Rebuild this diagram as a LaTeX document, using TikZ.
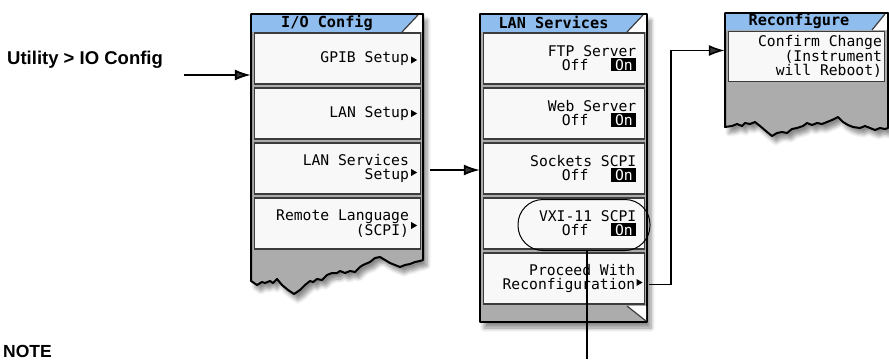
\documentclass[tikz,border=0pt]{standalone}
\usepackage{fontspec}
\usepackage{tikz}
\usetikzlibrary{positioning}
\usetikzlibrary{arrows.meta, shadows.blur}

\newfontfamily\keyfont{DejaVu Sans Mono}
\newfontfamily\labelfont{Liberation Sans}
\definecolor{titleblue}{RGB}{143,189,238}
\definecolor{keywhite}{RGB}{248,248,248}
\definecolor{torngray}{RGB}{172,172,172}
\definecolor{keyedge}{RGB}{60,60,60}
\newcommand{\onbox}{{\setlength{\fboxsep}{1.2pt}\colorbox{black}{\textcolor{white}{\,On\,}}}}
\newcommand{\offon}{Off\hspace{23pt}\onbox}

\begin{document}
\begin{tikzpicture}[x=1pt, y=-1pt,
    softkey/.style={draw=keyedge, line width=1.3pt, fill=keywhite, inner sep=0pt, minimum height=51pt},
    keytext/.style={font=\keyfont\fontsize{14.7}{13.5}\selectfont, align=right, inner sep=0pt, anchor=east},
    menutitle/.style={font=\keyfont\bfseries\fontsize{15.2}{14}\selectfont, inner sep=0pt, anchor=base},
    panel/.style={fill=torngray, draw=black, line width=2pt, line join=round,
        blur shadow={shadow xshift=4pt, shadow yshift=-6pt, shadow blur steps=6, shadow blur radius=4pt, shadow opacity=45}},
    flow/.style={line width=1.8pt, -{Latex[length=16pt, width=11pt]}},
    heading/.style={font=\labelfont\bfseries\fontsize{18.5}{20}\selectfont, inner sep=0pt, anchor=base west}]
\useasboundingbox (0,0) rectangle (889,359);

\fill[panel] (251,14) -- (423,14) -- (423,260) -- (420,261) -- (415,262) -- (410,264) -- (405,265)
    -- (400,267) -- (395,265) -- (390,263) -- (385,260) -- (380,257) -- (375,258) -- (370,262)
    -- (363,265) -- (360,267) -- (355,272) -- (350,271) -- (345,273) -- (340,271) -- (337,273)
    -- (332,273) -- (327,275) -- (322,280) -- (317,279) -- (313,282) -- (310,281) -- (305,285)
    -- (300,290) -- (294,294) -- (288,290) -- (282,285) -- (277,279) -- (273,283) -- (270,281)
    -- (265,283) -- (262,282) -- (257,285) -- (251,281) -- cycle;
\fill[white] (252,15) rectangle (422,32);
\fill[titleblue] (252,15) -- (418,15) -- (402,32) -- (252,32) -- cycle;
\draw[keyedge, line width=1.2pt] (418,15) -- (402,32);
\node[menutitle] (iotitle) at (327,27.5) {I/O Config};

\node[softkey, minimum width=166pt] (gpib) at (337.5,58.5) {};
\node[softkey, minimum width=166pt, below=2.7pt of gpib] (lanset) {};
\node[softkey, minimum width=166pt, below=2.7pt of lanset] (lansvc) {};
\node[softkey, minimum width=166pt, below=2.7pt of lansvc] (remote) {};
\node[keytext] (gpibtext) at ([xshift=-12pt]gpib.east) {GPIB Setup};
\node[keytext] (lansettext) at ([xshift=-12pt]lanset.east) {LAN Setup};
\node[keytext] (lansvctext) at ([xshift=-12pt]lansvc.east) {LAN Services\\Setup};
\node[keytext] (remotetext) at ([xshift=-12pt]remote.east) {Remote Language\\(SCPI)};

\fill[panel] (480,14) -- (647,14) -- (647,322) -- (480,322) -- cycle;
\fill[white] (481,15) rectangle (646,32);
\fill[titleblue] (481,15) -- (643,15) -- (627,32) -- (481,32) -- cycle;
\draw[keyedge, line width=1.2pt] (643,15) -- (627,32);
\node[menutitle] (lantitle) at (553.5,28) {LAN Services};

\node[softkey, minimum width=161pt] (ftp) at (564,58.5) {};
\node[softkey, minimum width=161pt, below=2.7pt of ftp] (web) {};
\node[softkey, minimum width=161pt, below=2.7pt of web] (sockets) {};
\node[softkey, minimum width=161pt, below=2.7pt of sockets] (vxi) {};
\node[softkey, minimum width=161pt, below=2.7pt of vxi] (proceed) {};
\fill[white] (627,306) -- (646,306) -- (646,321) -- cycle;
\draw[keyedge, line width=1.2pt] (627,306) -- (646,321);
\node[keytext] (ftptext) at ([xshift=-8.6pt]ftp.east) {FTP Server\\\offon};
\node[keytext] (webtext) at ([xshift=-8.6pt]web.east) {Web Server\\\offon};
\node[keytext] (socketstext) at ([xshift=-8.6pt]sockets.east) {Sockets SCPI\\\offon};
\node[keytext] (vxitext) at ([xshift=-8.6pt]vxi.east) {VXI-11 SCPI\\\offon};
\node[keytext] (proceedtext) at ([xshift=-9.6pt]proceed.east) {Proceed With\\Reconfiguration};

\fill[panel] (725,13) -- (888,13) -- (888,128) -- (885,129) -- (880,128) -- (875,130) -- (870,128)
    -- (865,126) -- (860,128) -- (853,127) -- (848,125) -- (843,122) -- (838,117) -- (832,120)
    -- (827,122) -- (822,124) -- (817,123) -- (812,125) -- (807,123) -- (803,126) -- (797,128)
    -- (792,129) -- (787,133) -- (782,132) -- (777,133) -- (772,136) -- (767,132) -- (760,126)
    -- (755,122) -- (750,124) -- (745,123) -- (742,126) -- (737,124) -- (732,126) -- (725,127) -- cycle;
\fill[white] (726,14) rectangle (887,30);
\fill[titleblue] (726,14) -- (885,14) -- (872,30) -- (726,30) -- cycle;
\draw[keyedge, line width=1.2pt] (885,14) -- (872,30);
\node[menutitle] (recontitle) at (799,25.5) {Reconfigure};
\node[softkey, minimum width=156pt, minimum height=50pt] (confirm) at (806.5,56.5) {};
\node[keytext, font=\keyfont\fontsize{14.7}{14.5}\selectfont] (confirmtext) at ([xshift=-3pt]confirm.east)
    {Confirm Change\\(Instrument\\will Reboot)};

\foreach \b/\dx/\dy in {gpib/-4/1.5, lanset/-4/0, lansvc/-4/4, remote/-4/2, proceed/-2.6/4}
    \fill ([shift={(\dx-6,\dy-3.5)}]\b.east) -- ++(6,3.5) -- ++(-6,3.5) -- cycle;

\node[draw, line width=1pt, rounded corners=25pt, minimum width=132pt, minimum height=51pt] (vxioval) at (584,225) {};

\node[heading] (utility) at (7,64) {Utility > IO Config};
\node[heading, font=\labelfont\bfseries\fontsize{17.5}{20}\selectfont] (note) at (3,357) {NOTE};

\coordinate (utilstart) at (184,75);
\coordinate (noteend) at (587,359);
\draw[flow] (utilstart) -- ([xshift=-3pt]utilstart -| gpib.west);
\draw[flow] ([shift={(9,1.5)}]lansvc.east) -- ([shift={(-3,1.5)}]lansvc.east -| sockets.west);
\draw[flow, line width=1.6pt] ([shift={(4,6)}]proceed.east) -| ([shift={(-57,-6)}]confirm.west) -- ([shift={(-3,-6)}]confirm.west);
\draw[line width=1.5pt] (vxioval.south -| noteend) -- (noteend);
\end{tikzpicture}
\end{document}
